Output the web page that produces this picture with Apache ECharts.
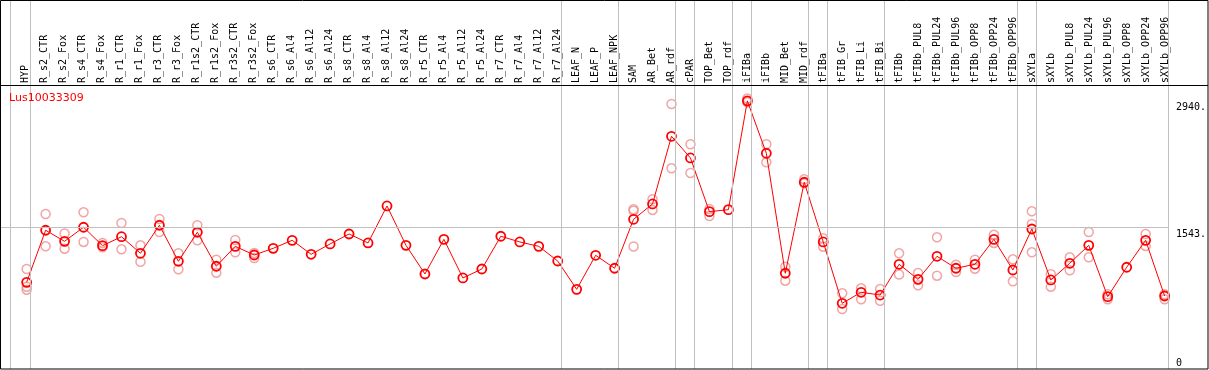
<!DOCTYPE html>
<html>
<head>
<meta charset="utf-8">
<script src="https://cdn.jsdelivr.net/npm/echarts@6/dist/echarts.min.js"></script>
<style>
html,body{margin:0;padding:0;background:#fff;}
#chart{width:1209px;height:370px;}
</style>
</head>
<body>
<div id="chart"></div>
<script>
const categories = ["HYP","R_s2_CTR","R_s2_Fox","R_s4_CTR","R_s4_Fox","R_r1_CTR","R_r1_Fox","R_r3_CTR","R_r3_Fox","R_r1s2_CTR","R_r1s2_Fox","R_r3s2_CTR","R_r3s2_Fox","R_s6_CTR","R_s6_Al4","R_s6_Al12","R_s6_Al24","R_s8_CTR","R_s8_Al4","R_s8_Al12","R_s8_Al24","R_r5_CTR","R_r5_Al4","R_r5_Al12","R_r5_Al24","R_r7_CTR","R_r7_Al4","R_r7_Al12","R_r7_Al24","LEAF_N","LEAF_P","LEAF_NPK","SAM","AR_Bet","AR_rdf","cPAR","TOP_Bet","TOP_rdf","iFIBa","iFIBb","MID_Bet","MID_rdf","tFIBa","tFIB_Gr","tFIB_Li","tFIB_Bi","tFIBb","tFIBb_PUL8","tFIBb_PUL24","tFIBb_PUL96","tFIBb_OPP8","tFIBb_OPP24","tFIBb_OPP96","sXYLa","sXYLb","sXYLb_PUL8","sXYLb_PUL24","sXYLb_PUL96","sXYLb_OPP8","sXYLb_OPP24","sXYLb_OPP96"];
const meanValues = [939,1513,1391,1546,1343,1442,1259,1568,1171,1491,1116,1336,1240,1314,1402,1248,1362,1472,1373,1781,1347,1031,1413,987,1086,1447,1384,1336,1174,862,1237,1094,1634,1803,2549,2310,1718,1740,2940,2362,1039,2042,1384,708,829,799,1138,972,1226,1094,1138,1413,1075,1527,965,1149,1347,781,1105,1402,788];
const rep1 = [1086,1692,1477,1711,1373,1593,1347,1637,1259,1568,1189,1406,1262,null,null,null,null,null,null,null,null,null,null,null,null,null,null,null,null,null,null,null,1744,1855,2905,2461,1748,null,2965,2461,1111,2075,1424,818,873,865,1259,1042,1435,1133,1189,1464,1193,1722,1028,1215,1494,807,null,1472,807];
const rep2 = [891,1336,1310,1384,1325,1303,1166,1494,1083,1402,1045,1270,1207,null,null,null,null,null,null,null,null,null,null,null,null,null,null,null,null,null,null,null,1334,1737,2196,2144,1670,null,2925,2262,957,2030,1332,645,752,736,1025,906,1012,1053,1089,1373,950,1270,891,1072,1215,752,null,1340,752];
const rep3 = [858,null,null,null,null,null,null,null,null,null,null,null,null,null,null,null,null,null,null,null,null,null,null,null,null,null,null,null,null,null,null,null,1729,null,null,null,null,null,null,null,null,null,null,null,null,null,null,null,null,null,null,null,null,1582,null,null,null,null,null,null,null];
const yTickValues = [0, 1543, 2940];
const groupEnds = [0, 28, 31, 34, 35, 37, 38, 41, 42, 45, 52, 53, 60];
const geneName = "Lus10033309";

// x position of category i is (i + 1) on the hidden value axis
const repPoints = [];
[rep1, rep2, rep3].forEach(arr => arr.forEach((v, i) => { if (v != null) repPoints.push([i + 1, v]); }));
const meanPoints = meanValues.map((v, i) => [i + 1, v]);

const sepLines = [{xAxis: 0.12}].concat(groupEnds.map(i => ({xAxis: i + 1.21})));

const chart = echarts.init(document.getElementById('chart'), null, {renderer: 'canvas'});
chart.setOption({
  animation: false,
  backgroundColor: '#ffffff',
  title: {
    text: geneName, left: 9, top: 93, padding: 0,
    textStyle: {color: '#ff0000', fontFamily: 'DejaVu Sans', fontSize: 11, fontWeight: 'normal'}
  },
  grid: [
    {left: 1, right: 38, top: 0, bottom: 1, show: false},
    {left: 25, right: 44, top: 85, height: 1, show: false}
  ],
  xAxis: [
    {type: 'value', gridIndex: 0, min: -0.3526, max: 61.226,
     axisLine: {show: false}, axisTick: {show: false}, axisLabel: {show: false}, splitLine: {show: false}},
    {type: 'category', gridIndex: 1, position: 'top', data: categories, boundaryGap: false,
     axisLine: {show: false}, axisTick: {show: false}, splitLine: {show: false},
     axisLabel: {interval: 0, rotate: 90, margin: 2, color: '#000', fontFamily: 'DejaVu Sans Mono', fontSize: 10}}
  ],
  yAxis: [
    {type: 'value', gridIndex: 0, position: 'right', min: -16.5, max: 4051.4,
     axisLine: {show: false}, axisTick: {show: false}, splitLine: {show: false},
     axisLabel: {
       customValues: yTickValues, margin: 7, align: 'left',
       color: '#000', fontFamily: 'DejaVu Sans Mono', fontSize: 10,
       formatter: v => v === 0 ? '{u|0}' : '{d|' + v + '.}',
       rich: {
         d: {padding: [14, 0, 0, 0], fontFamily: 'DejaVu Sans Mono', fontSize: 10, color: '#000'},
         u: {padding: [0, 0, 9, 0], fontFamily: 'DejaVu Sans Mono', fontSize: 10, color: '#000'}
       }
     }},
    {type: 'value', gridIndex: 1, show: false}
  ],
  graphic: [
    {type: 'rect', shape: {x: 0.5, y: 0.5, width: 1207.5, height: 368.5}, style: {fill: null, stroke: '#000', lineWidth: 1}, z: 100, silent: true},
    {type: 'line', shape: {x1: 0, y1: 85.5, x2: 1208, y2: 85.5}, style: {stroke: '#000', lineWidth: 1}, z: 100, silent: true}
  ],
  series: [
    {
      type: 'scatter', xAxisIndex: 0, yAxisIndex: 0, data: repPoints,
      symbol: 'circle', symbolSize: 9,
      itemStyle: {color: 'rgba(0,0,0,0)', borderColor: '#ee8e8e', borderWidth: 1.5},
      z: 2,
      markLine: {
        silent: true, symbol: ['none', 'none'], label: {show: false},
        lineStyle: {color: '#c0c0c0', width: 1, type: 'solid'},
        data: sepLines.concat([{yAxis: 1543}])
      }
    },
    {
      type: 'line', xAxisIndex: 0, yAxisIndex: 0, data: meanPoints,
      symbol: 'circle', symbolSize: 9, showAllSymbol: true,
      lineStyle: {color: '#ff0000', width: 1},
      itemStyle: {color: 'rgba(0,0,0,0)', borderColor: '#ff0000', borderWidth: 1.8},
      z: 3
    }
  ]
});
</script>
</body>
</html>
